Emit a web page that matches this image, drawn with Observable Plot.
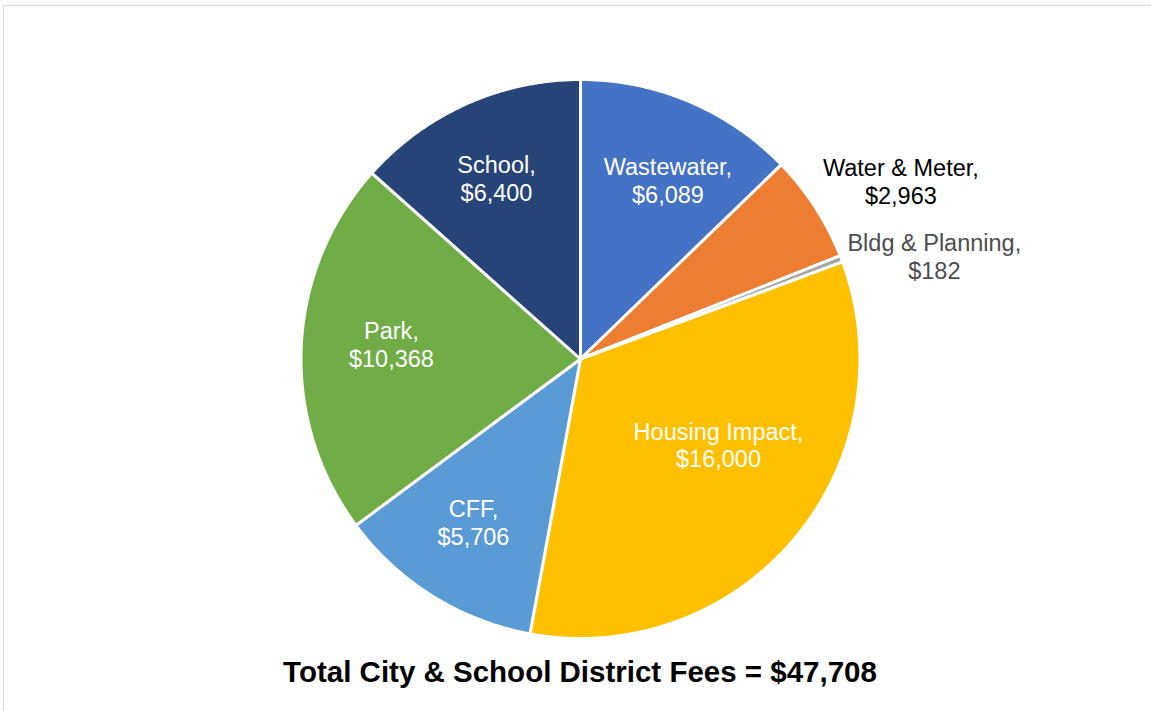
<!DOCTYPE html>
<html><head><meta charset="utf-8">
<script src="https://cdn.jsdelivr.net/npm/d3@7"></script>
<script src="https://cdn.jsdelivr.net/npm/@observablehq/plot@0.6"></script>
<style>
body{margin:0;background:#fff;font-family:"Liberation Sans",Arial,sans-serif;}
#wrap{position:relative;width:1151px;height:711px;overflow:hidden;background:#fff;}
#frame{position:absolute;left:3px;top:5px;width:2000px;height:2000px;border-top:1.5px solid #d9d9d9;border-left:1.5px solid #d9d9d9;}
#chart{position:absolute;left:0;top:0;}
#title{position:absolute;left:0;top:654px;width:1160px;text-align:center;font-weight:bold;font-size:29.5px;line-height:36px;color:#000;}
</style></head><body>
<div id="wrap"><div id="frame"></div><div id="chart"></div><div id="title"></div></div>
<script>
// ---- data ----
const categories = ["Wastewater", "Water & Meter", "Bldg & Planning", "Housing Impact", "CFF", "Park", "School"];
const fees = [6089, 2963, 182, 16000, 5706, 10368, 6400];
const titleText = "Total City & School District Fees";

// ---- styles / layout ----
const sliceColors = ["#4472C4", "#ED7D31", "#A5A5A5", "#FFC000", "#5B9BD5", "#70AD47", "#264478"];
const labelColors = {"Water & Meter": "#000000", "Bldg & Planning": "#4d4d4d"};
// label placement: [angle in degrees clockwise from 12 o'clock, radius as fraction of pie radius]
const labelPlacement = {
  "Wastewater": [26.05, 0.715],
  "Water & Meter": [60.94, 1.316],
  "Bldg & Planning": [73.8, 1.323],
  "Housing Impact": [121.8, 0.583],
  "CFF": [213.3, 0.70],
  "Park": [274.5, 0.681],
  "School": [335.05, 0.715]
};

const W = 1151, H = 654, CX = 580, CY = 358.5, R = 279.5;

const pie = d3.pie().sort(null).value(d => d.value)(categories.map((name, i) => ({name, value: fees[i]})));

// slice outlines in unit-circle coordinates (y up)
const pts = [];
for (const s of pie) {
  const name = s.data.name;
  pts.push({name, x: 0, y: 0});
  const n = Math.max(2, Math.ceil((s.endAngle - s.startAngle) / (Math.PI / 360)));
  for (let k = 0; k <= n; k++) {
    const a = s.startAngle + (s.endAngle - s.startAngle) * k / n;
    pts.push({name, x: Math.sin(a), y: Math.cos(a)});
  }
  pts.push({name, x: 0, y: 0});
}

const fmt = d3.format(",");
const labels = pie.map(s => {
  const name = s.data.name;
  const [deg, k] = labelPlacement[name];
  const a = deg * Math.PI / 180;
  return {
    name,
    text: `${name},\n$${fmt(s.data.value)}`,
    x: k * Math.sin(a) * 278.5 / R,
    y: k * Math.cos(a) * 278.5 / R,
    color: labelColors[name] || "#ffffff"
  };
});

const chart = Plot.plot({
  width: W,
  height: H,
  margin: 0,
  x: {domain: [-CX / R, (W - CX) / R], range: [0, W], axis: null},
  y: {domain: [-(H - CY) / R, CY / R], range: [H, 0], axis: null},
  color: {domain: categories, range: sliceColors},
  style: {background: "transparent", fontFamily: "'Liberation Sans', Arial, sans-serif"},
  marks: [
    Plot.line(pts, {x: "x", y: "y", z: "name", fill: "name", stroke: "#ffffff", strokeWidth: 3, strokeLinejoin: "round"}),
    Plot.text(labels, {x: "x", y: "y", text: "text", fill: d => d.color, fontSize: 23.5, lineHeight: 1.19, textAnchor: "middle"})
  ]
});
document.getElementById("chart").appendChild(chart);
document.getElementById("title").textContent = `${titleText} = $${fmt(d3.sum(fees))}`;
</script>
</body></html>
